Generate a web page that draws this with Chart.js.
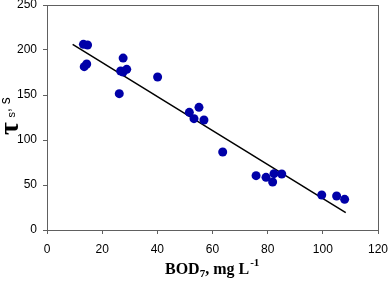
<!DOCTYPE html>
<html lang="en">
<head>
    <meta charset="UTF-8">
    <title>Tau vs BOD7</title>
    <script src="https://cdn.jsdelivr.net/npm/chart.js"></script>
    <style>
        html, body { margin: 0; padding: 0; background: #fff; }
        #wrap { width: 390px; height: 282px; }
    </style>
</head>
<body>
    <div id="wrap"><canvas id="tauChart" width="390" height="282"></canvas></div>

    <script>
// valores
const bodValues = [13.2, 14.7, 13.5, 14.4, 26.2, 27.6, 26.7, 28.9, 27.6, 40.1, 51.6, 55.1, 53.3, 56.9, 63.7, 75.8, 79.4, 82.3, 81.8, 85.1, 99.6, 105.0, 107.9];
const tauValues = [206.3, 205.5, 181.5, 184.4, 151.5, 191, 176.7, 178.5, 175.5, 170, 130.7, 136.3, 123.7, 122.2, 86.7, 60.4, 58.5, 62.6, 53.3, 62.2, 38.9, 37.8, 34.1];
// linha de tendência (extremos)
const trendX = [9.3, 108.3];
const trendY = [206.3, 19.3];
const xTicks = [0, 20, 40, 60, 80, 100, 120];
const yTicks = [0, 50, 100, 150, 200, 250];

const pontos = bodValues.map((x, i) => ({ x: x, y: tauValues[i] }));
const tendencia = trendX.map((x, i) => ({ x: x, y: trendY[i] }));

// moldura + títulos dos eixos
const extras = {
    id: 'extras',
    beforeDatasetsDraw(chart) {
        const { ctx, chartArea: a } = chart;
        ctx.save();
        ctx.strokeStyle = '#606060';
        ctx.lineWidth = 1;
        ctx.strokeRect(a.left + 0.5, a.top + 0.5, a.right - a.left, a.bottom - a.top);
        ctx.restore();
    },
    afterDraw(chart) {
        const ctx = chart.ctx;
        ctx.save();
        ctx.fillStyle = '#000';
        ctx.textBaseline = 'alphabetic';
        ctx.textAlign = 'left';

        // eixo x: BOD7, mg L-1
        let x = 165, base = 274;
        const serif = '"Liberation Serif", "Times New Roman", serif';
        ctx.font = 'bold 16px ' + serif;
        ctx.fillText('BOD', x, base);
        x += ctx.measureText('BOD').width;
        ctx.font = 'bold 11px ' + serif;
        ctx.fillText('7', x, base + 3);
        x += ctx.measureText('7').width;
        ctx.font = 'bold 16px ' + serif;
        ctx.fillText(', mg L', x, base);
        x += ctx.measureText(', mg L').width;
        ctx.font = 'bold 11px ' + serif;
        ctx.fillText('-1', x + 1, base - 8);

        // eixo y: τs, s (rodado)
        ctx.rotate(-Math.PI / 2);
        ctx.font = 'bold 28px ' + serif;
        ctx.fillText('τ', -135, 18);
        ctx.font = '11px "Liberation Sans", Arial, sans-serif';
        ctx.fillText('s', -117.5, 14.5);
        ctx.font = '14px "Liberation Sans", Arial, sans-serif';
        ctx.fillText(', s', -112, 10);
        ctx.restore();
    }
};

function criarGrafico() {
    new Chart(document.getElementById('tauChart'), {
        type: 'scatter',
        data: {
            datasets: [
                {
                    type: 'line',
                    data: tendencia,
                    borderColor: '#000',
                    borderWidth: 1.5,
                    pointRadius: 0,
                    fill: false,
                    order: 2
                },
                {
                    data: pontos,
                    backgroundColor: '#0000a8',
                    borderColor: '#0000a8',
                    pointRadius: 4.5,
                    pointBorderWidth: 0,
                    order: 1
                }
            ]
        },
        options: {
            responsive: false,
            animation: false,
            layout: { padding: { top: 5, right: 12, left: 0, bottom: 0 } },
            plugins: { legend: { display: false }, tooltip: { enabled: false } },
            scales: {
                x: {
                    type: 'linear',
                    min: 0, max: 120,
                    afterFit(s) { s.height = 52; s.paddingLeft = 0; s.paddingRight = 0; },
                    afterBuildTicks(s) { s.ticks = xTicks.map(v => ({ value: v })); },
                    grid: { drawOnChartArea: false, drawTicks: true, tickLength: 4, color: '#606060' },
                    border: { display: true, color: '#606060' },
                    ticks: {
                        color: '#000',
                        padding: 8,
                        maxRotation: 0,
                        font: { family: '"Liberation Sans", Arial, sans-serif', size: 12 }
                    }
                },
                y: {
                    type: 'linear',
                    min: 0, max: 250,
                    afterFit(s) { s.width = 47; s.paddingTop = 0; s.paddingBottom = 0; },
                    afterBuildTicks(s) { s.ticks = yTicks.map(v => ({ value: v })); },
                    grid: { drawOnChartArea: false, drawTicks: true, tickLength: 4, color: '#606060' },
                    border: { display: true, color: '#606060' },
                    ticks: {
                        color: '#000',
                        padding: 6,
                        font: { family: '"Liberation Sans", Arial, sans-serif', size: 12 }
                    }
                }
            }
        },
        plugins: [extras]
    });
}

document.addEventListener('DOMContentLoaded', criarGrafico);
    </script>
</body>
</html>
